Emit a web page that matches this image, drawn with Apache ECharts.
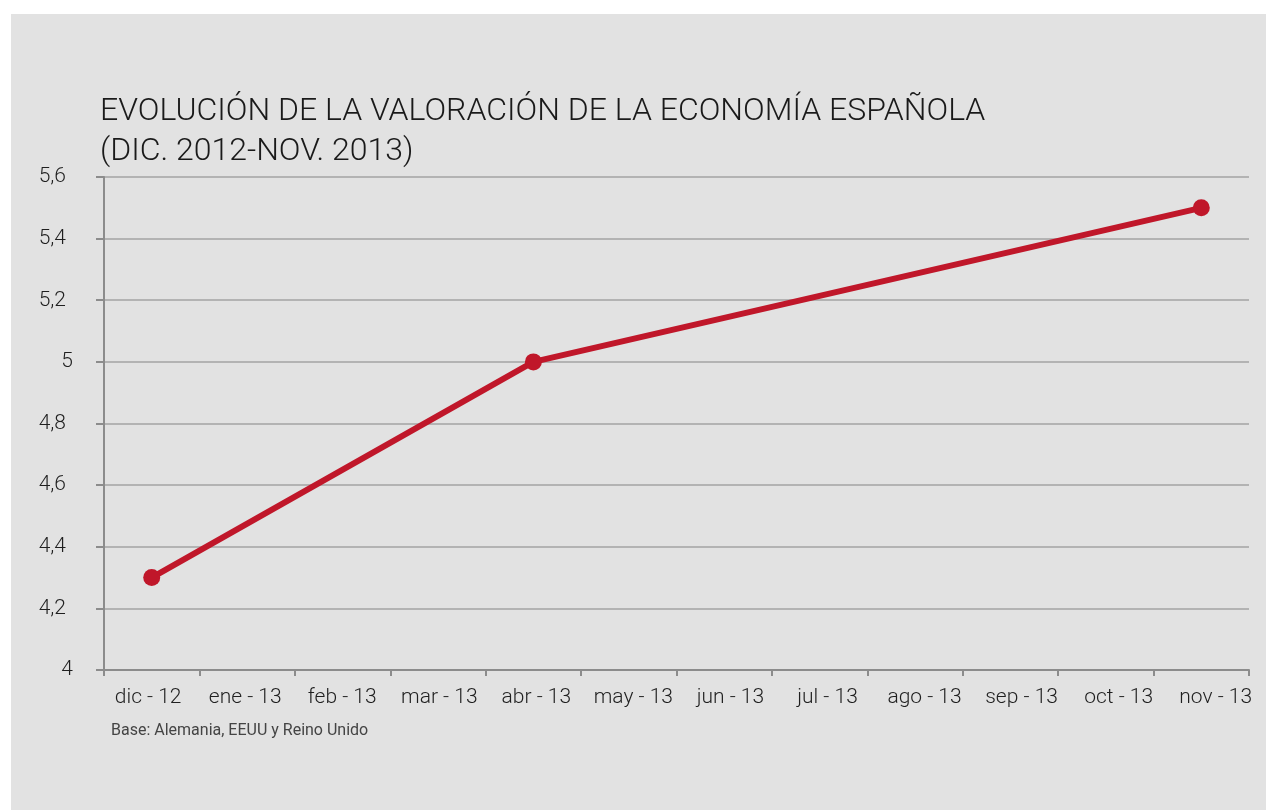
<!DOCTYPE html>
<html>
<head>
<meta charset="utf-8">
<script src="https://cdn.jsdelivr.net/npm/echarts@6/dist/echarts.min.js"></script>
<style>
  html, body { margin: 0; padding: 0; background: #ffffff; }
  #chart { position: absolute; left: 11px; top: 14px; width: 1255px; height: 796px; }
</style>
</head>
<body>
<div id="chart"></div>
<script>
const titleText = 'EVOLUCIÓN DE LA VALORACIÓN DE LA ECONOMÍA ESPAÑOLA\n(DIC. 2012-NOV. 2013)';
const footnote = 'Base: Alemania, EEUU y Reino Unido';
const categories = ['dic - 12', 'ene - 13', 'feb - 13', 'mar - 13', 'abr - 13', 'may - 13',
  'jun - 13', 'jul - 13', 'ago - 13', 'sep - 13', 'oct - 13', 'nov - 13'];
const values = [4.3, null, null, null, 5.0, null, null, null, null, null, null, 5.5];
const yMin = 4, yMax = 5.6, yStep = 0.2;

const labelFont = { fontFamily: 'Roboto', fontWeight: 300, fontSize: 21, color: '#1f1f1f' };

const chart = echarts.init(document.getElementById('chart'));
chart.setOption({
  backgroundColor: '#e2e2e2',
  animation: false,
  title: {
    text: titleText,
    left: 89,
    top: 78,
    padding: 0,
    textStyle: { fontFamily: 'Roboto', fontWeight: 300, fontSize: 32, lineHeight: 40, color: '#1a1a1a' }
  },
  graphic: [{
    type: 'text',
    left: 100,
    top: 709,
    style: { text: footnote, font: '400 16px Roboto', fill: '#444444' }
  }],
  grid: [
    { left: 93, right: 17, top: 163, bottom: 140, containLabel: false },
    { left: 88.6, right: 1.8, top: 163, bottom: 140, containLabel: false }
  ],
  xAxis: [{
    type: 'category',
    gridIndex: 0,
    data: categories,
    boundaryGap: true,
    axisLine: { lineStyle: { color: '#8c8c8c', width: 2 } },
    axisTick: { show: true, length: 6, lineStyle: { color: '#8c8c8c', width: 2 } },
    axisLabel: { show: false },
    splitLine: { show: false }
  }, {
    type: 'category',
    gridIndex: 1,
    data: categories,
    boundaryGap: true,
    axisLine: { show: false },
    axisTick: { show: false },
    axisLabel: Object.assign({ margin: 17, interval: 0 }, labelFont),
    splitLine: { show: false }
  }],
  yAxis: [{
    type: 'value',
    gridIndex: 0,
    min: yMin,
    max: yMax,
    interval: yStep,
    axisLine: { show: true, lineStyle: { color: '#8c8c8c', width: 2 } },
    axisTick: { show: true, length: 8, lineStyle: { color: '#8c8c8c', width: 2 } },
    axisLabel: Object.assign({
      margin: 31,
      formatter: v => {
        const s = (Math.round(v * 10) / 10).toString().replace('.', ',');
        return s.indexOf(',') >= 0 ? '{d|' + s + '}' : '{i|' + s + '}';
      },
      rich: {
        d: Object.assign({ padding: [0, 7, 0, 0] }, labelFont),
        i: Object.assign({}, labelFont)
      }
    }, labelFont),
    splitLine: { show: true, lineStyle: { color: '#a3a3a3', width: 1.5 } }
  }, {
    type: 'value',
    gridIndex: 1,
    min: yMin,
    max: yMax,
    interval: yStep,
    show: false
  }],
  series: [{
    type: 'line',
    xAxisIndex: 0,
    yAxisIndex: 0,
    data: values,
    connectNulls: true,
    symbol: 'circle',
    symbolSize: 17,
    lineStyle: { color: '#c0172a', width: 6 },
    itemStyle: { color: '#c0172a' }
  }]
});
</script>
</body>
</html>
